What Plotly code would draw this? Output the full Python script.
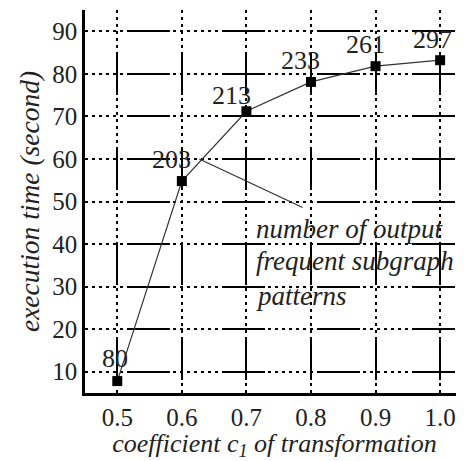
import plotly.graph_objects as go

coef = [0.5, 0.6, 0.7, 0.8, 0.9, 1.0]
exec_time = [7.8, 54.8, 71.2, 78.1, 81.8, 83.2]
pattern_counts = ["80", "203", "213", "233", "261", "297"]
label_shift_x = [-2, -10, -15, -10, -10, -8]
label_shift_y = [23, 22, 16, 21, 22, 21]
x_ticks = [0.5, 0.6, 0.7, 0.8, 0.9, 1.0]
x_tick_text = ["0.5", "0.6", "0.7", "0.8", "0.9", "1.0"]
y_ticks = [10, 20, 30, 40, 50, 60, 70, 80, 90]
note_lines = ["number of output", "frequent subgraph", "patterns"]
note_y = [43.6, 36.0, 27.8]

FONT = "Liberation Serif"
FS = 26
TICK_FS = 25
grid_dash = ",".join(["3px", "4px"] * 6 + ["43px", "3px", "3px", "4px"])

fig = go.Figure()
fig.add_trace(go.Scatter(
    x=coef, y=exec_time, mode="lines+markers",
    line=dict(color="#333333", width=1.2),
    marker=dict(symbol="square", size=10, color="black"),
    showlegend=False, cliponaxis=False,
))

annotations = []
for xv, yv, t, dx, dy in zip(coef, exec_time, pattern_counts, label_shift_x, label_shift_y):
    annotations.append(dict(x=xv, y=yv, text=t, showarrow=False, xshift=dx, yshift=dy,
                            font=dict(family=FONT, size=FS, color="#222")))

for line, yv in zip(note_lines, note_y):
    annotations.append(dict(x=0.711, y=yv, xref="x", yref="y", text="<i>" + line + "</i>",
                            showarrow=False, xanchor="left", yanchor="middle",
                            font=dict(family=FONT, size=27, color="#222")))

# pointer from the "203" label region to the note text
fig.add_shape(type="line", x0=0.627, y0=60, x1=0.787, y1=48.6, xref="x", yref="y",
              line=dict(color="#333", width=1.2))

fig.update_layout(
    width=456, height=453,
    margin=dict(l=77, r=0, t=2, b=68),
    paper_bgcolor="white", plot_bgcolor="white",
    font=dict(family=FONT, size=FS, color="#222"),
    annotations=annotations,
    xaxis=dict(
        range=[0.45, 1.037], tickvals=x_ticks, ticktext=x_tick_text,
        showgrid=True, gridcolor="black", gridwidth=1.5, griddash=grid_dash,
        showline=True, linecolor="black", linewidth=2.5, mirror=False,
        ticks="", zeroline=False, tickfont=dict(family=FONT, size=TICK_FS), automargin=False,
        title=dict(text="<i>coefficient c<sub>1</sub> of transformation</i>",
                   font=dict(family=FONT, size=26), standoff=6),
    ),
    yaxis=dict(
        range=[5, 95], tickvals=y_ticks,
        showgrid=True, gridcolor="black", gridwidth=1.5, griddash=grid_dash,
        showline=True, linecolor="black", linewidth=2.5, mirror=False,
        ticks="", zeroline=False, tickfont=dict(family=FONT, size=TICK_FS), automargin=False,
        title=dict(text="<i>execution time (second)</i>",
                   font=dict(family=FONT, size=27.5), standoff=5),
    ),
)

fig.write_html("out.html")
